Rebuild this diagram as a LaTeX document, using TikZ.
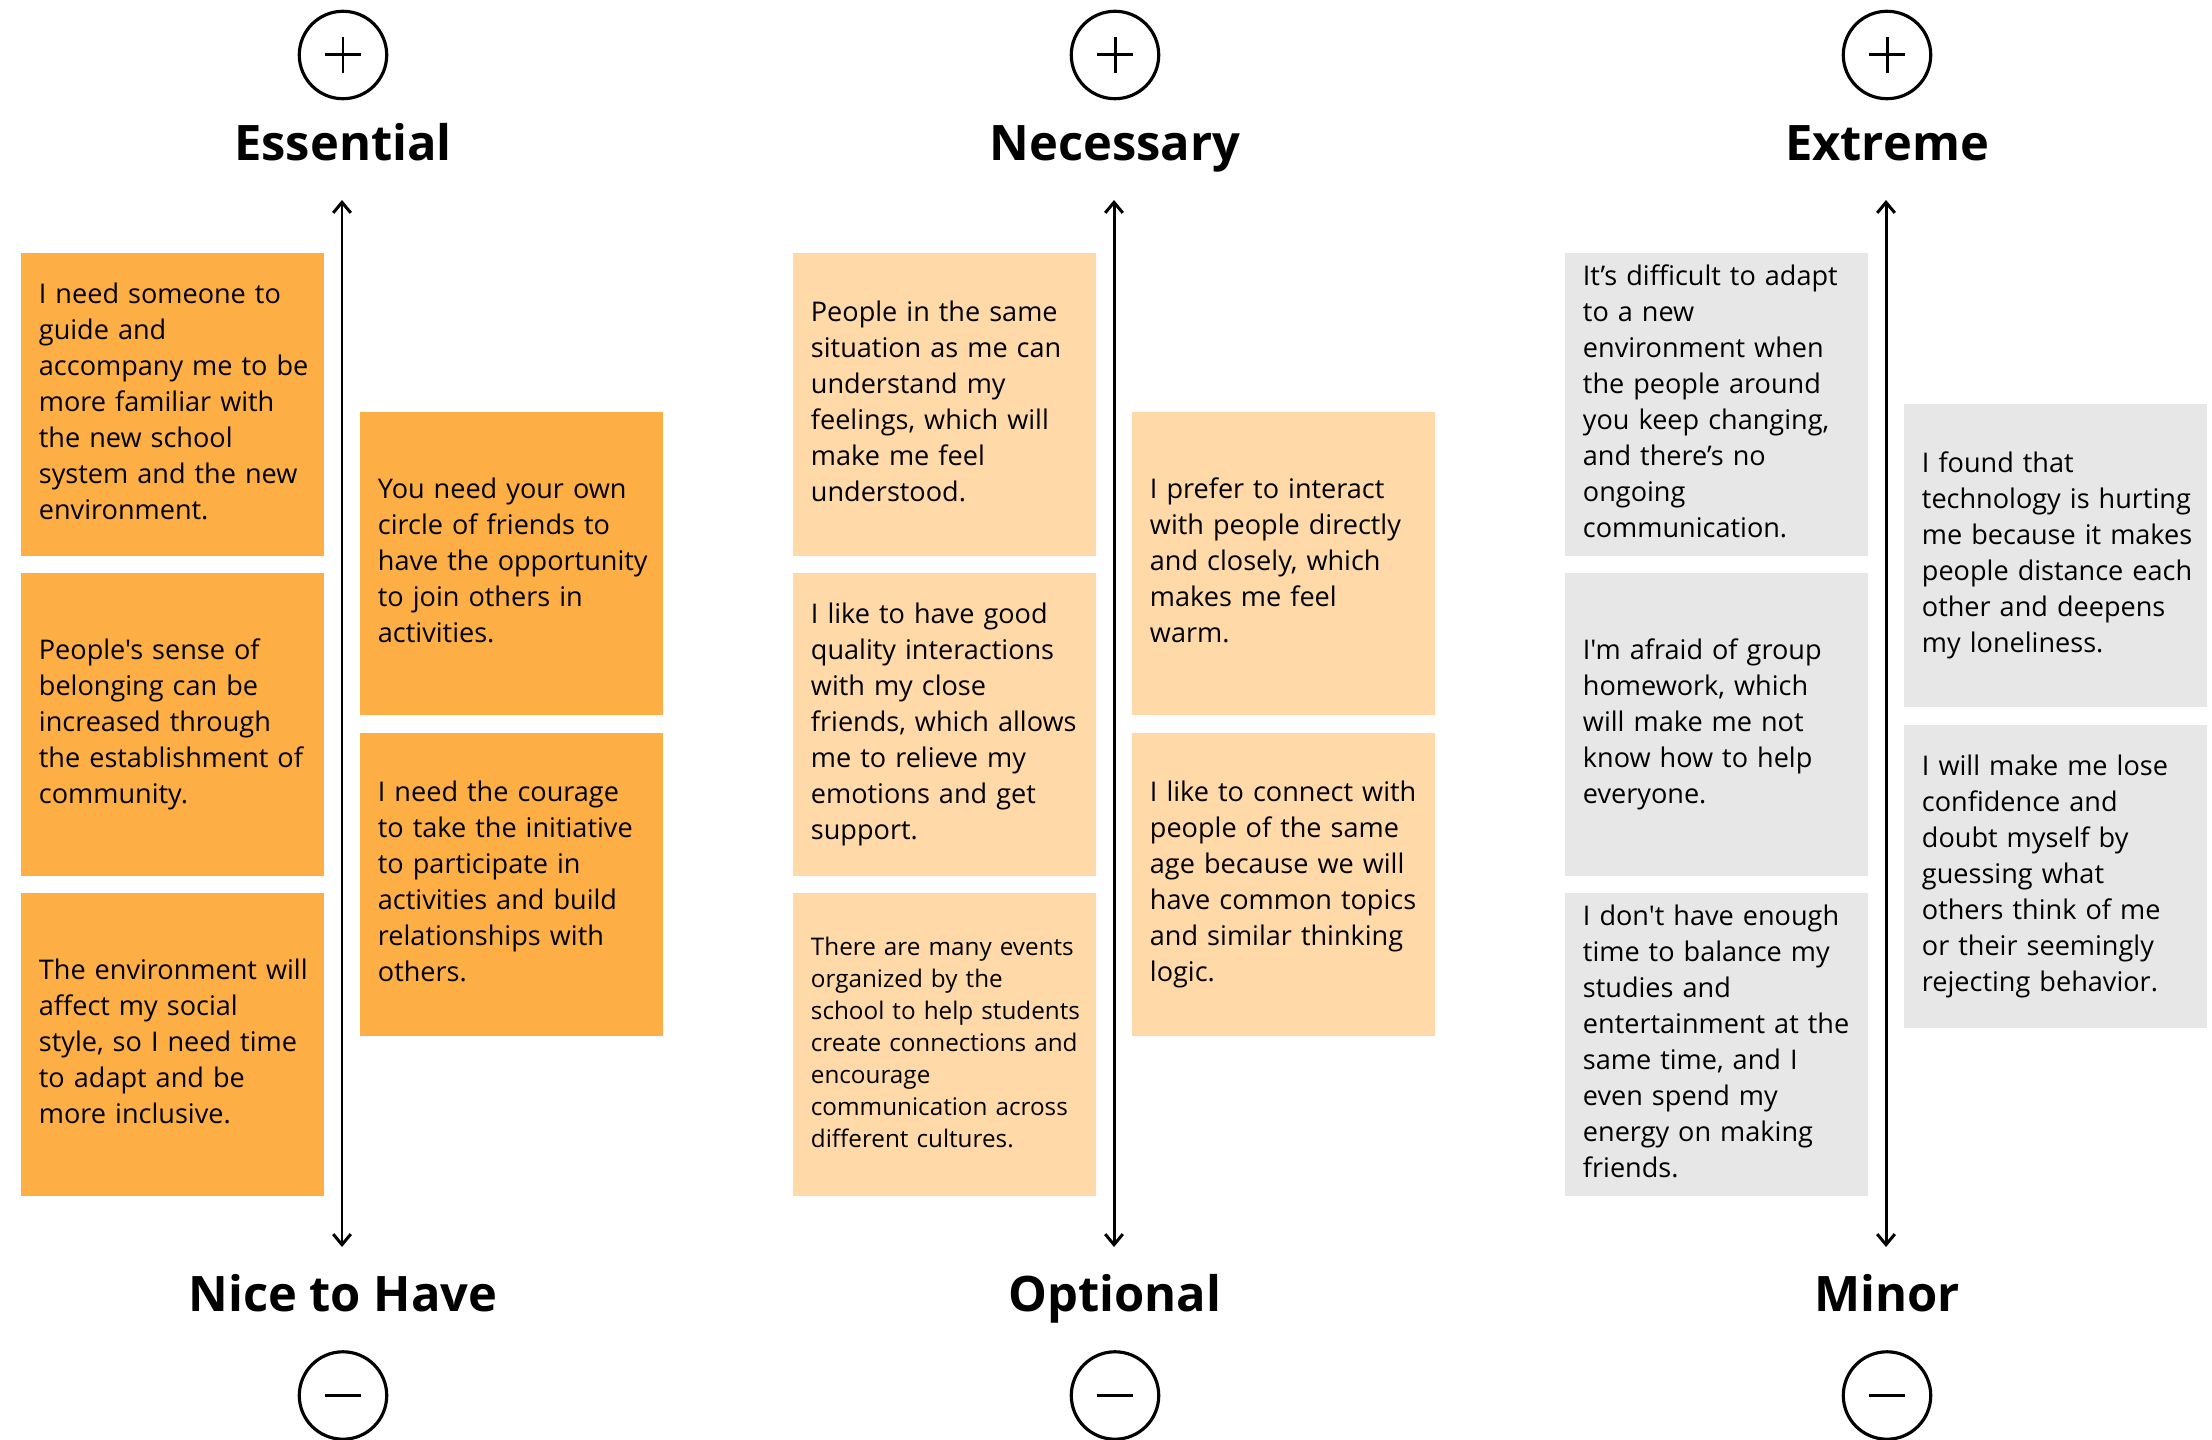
\documentclass[tikz,border=0pt]{standalone}
\usepackage{fontspec}
\setmainfont{Open Sans}
\newfontfamily\cardfont{Open Sans}[Ligatures=TeXOff]
\usetikzlibrary{arrows.meta, positioning}
\usepackage{xcolor}
\definecolor{hotorange}{HTML}{FDAE44}
\definecolor{softorange}{HTML}{FFD9A8}
\definecolor{palegrey}{HTML}{E7E7E7}
\newcommand{\cardlines}[1]{\begin{tabular}{@{}l@{}}#1\end{tabular}}

\begin{document}
\begin{tikzpicture}[x=0.01cm, y=-0.01cm, >={Straight Barb[length=3pt,width=5pt]}]
				\tikzstyle{sign} = [draw=black, line width=0.9pt, circle, minimum size=0.874cm, inner sep=0pt]
				\tikzstyle{head} = [font=\fontsize{13.9}{16}\selectfont\bfseries, anchor=base, inner sep=0pt]
				\tikzstyle{card} = [rectangle, minimum height=3.03cm, text width=2.67cm, inner xsep=0.18cm, inner ysep=0pt, align=left, font=\cardfont\fontsize{7.7}{10.24}\selectfont]
				\tikzstyle{hot}  = [card, fill=hotorange]
				\tikzstyle{soft} = [card, fill=softorange]
				\tikzstyle{pale} = [card, fill=palegrey]
				\tikzstyle{axis} = [<->, line width=0.85pt]
				\tikzstyle{bar}  = [line width=0.85pt]
				
				% Essential / Nice to Have
				\useasboundingbox (0,0) rectangle (2212,1440);
				\node[sign]		at (343,55)		(plusE)		{};
				\node[head]		at (343,161)	(headE)		{Essential};
				\node[head]		at (343,1311)	(footE)		{Nice to Have};
				\node[sign]		at (343,1395.5)	(minusE)	{};
				\coordinate (topE) at (342,200);
				\coordinate (botE) at (342,1247);
				
				\node[hot]	at (172.5,404.5)	(ess1)	{\cardlines{I need someone to\\guide and\\accompany me to be\\more familiar with\\the new school\\system and the new\\environment.}};
				\node[hot, below=0.155cm of ess1]	(ess2)	{\cardlines{People's sense of\\belonging can be\\increased through\\the establishment of\\community.}};
				\node[hot, below=0.155cm of ess2]	(ess3)	{\cardlines{The environment will\\affect my social\\style, so I need time\\to adapt and be\\more inclusive.}};
				\node[hot]	at (511.5,563.5)	(ess4)	{\cardlines{You need your own\\circle of friends to\\have the opportunity\\to join others in\\activities.}};
				\node[hot, below=0.16cm of ess4]	(ess5)	{\cardlines{I need the courage\\to take the initiative\\to participate in\\activities and build\\relationships with\\others.}};
				
				% Necessary / Optional
				\node[sign]		at (1115,55)	(plusN)		{};
				\node[head]		at (1115,161)	(headN)		{Necessary};
				\node[head]		at (1115,1311)	(footN)		{Optional};
				\node[sign]		at (1115,1395.5)	(minusN)	{};
				\coordinate (topN) at (1114,200);
				\coordinate (botN) at (1114,1247);
				
				\node[soft]	at (944.5,404.5)	(nec1)	{\cardlines{People in the same\\situation as me can\\understand my\\feelings, which will\\make me feel\\understood.}};
				\node[soft, below=0.155cm of nec1]	(nec2)	{\cardlines{I like to have good\\quality interactions\\with my close\\friends, which allows\\me to relieve my\\emotions and get\\support.}};
				\node[soft, below=0.155cm of nec2, font=\cardfont\fontsize{6.9}{9.1}\selectfont]	(nec3)	{\cardlines{There are many events\\organized by the\\school to help students\\create connections and\\encourage\\communication across\\different cultures.}};
				\node[soft]	at (1283.5,563.5)	(nec4)	{\cardlines{I prefer to interact\\with people directly\\and closely, which\\makes me feel\\warm.}};
				\node[soft, below=0.16cm of nec4]	(nec5)	{\cardlines{I like to connect with\\people of the same\\age because we will\\have common topics\\and similar thinking\\logic.}};
				
				% Extreme / Minor
				\node[sign]		at (1887,55)	(plusX)		{};
				\node[head]		at (1887,161)	(headX)		{Extreme};
				\node[head]		at (1887,1311)	(footX)		{Minor};
				\node[sign]		at (1887,1395.5)	(minusX)	{};
				\coordinate (topX) at (1886,200);
				\coordinate (botX) at (1886,1247);
				
				\node[pale]	at (1716.5,404.5)	(ext1)	{\cardlines{It’s difficult to adapt\\to a new\\environment when\\the people around\\you keep changing,\\and there’s no\\ongoing\\communication.}};
				\node[pale, below=0.155cm of ext1]	(ext2)	{\cardlines{I'm afraid of group\\homework, which\\will make me not\\know how to help\\everyone.}};
				\node[pale, below=0.155cm of ext2]	(ext3)	{\cardlines{I don't have enough\\time to balance my\\studies and\\entertainment at the\\same time, and I\\even spend my\\energy on making\\friends.}};
				\node[pale]	at (2055.5,555.5)	(ext4)	{\cardlines{I found that\\technology is hurting\\me because it makes\\people distance each\\other and deepens\\my loneliness.}};
				\node[pale, below=0.16cm of ext4]	(ext5)	{\cardlines{I will make me lose\\confidence and\\doubt myself by\\guessing what\\others think of me\\or their seemingly\\rejecting behavior.}};
				
				% axes and signs
				\draw[axis] (botE) -- (topE);
				\draw[axis] (botN) -- (topN);
				\draw[axis] (botX) -- (topX);
				\foreach \s in {plusE, plusN, plusX} {
					\draw[bar] ([xshift=-0.18cm]\s.center) -- ([xshift=0.18cm]\s.center);
					\draw[bar] ([yshift=-0.18cm]\s.center) -- ([yshift=0.18cm]\s.center);
				}
				\foreach \s in {minusE, minusN, minusX}
					\draw[bar] ([xshift=-0.18cm]\s.center) -- ([xshift=0.18cm]\s.center);
			\end{tikzpicture}
\end{document}
